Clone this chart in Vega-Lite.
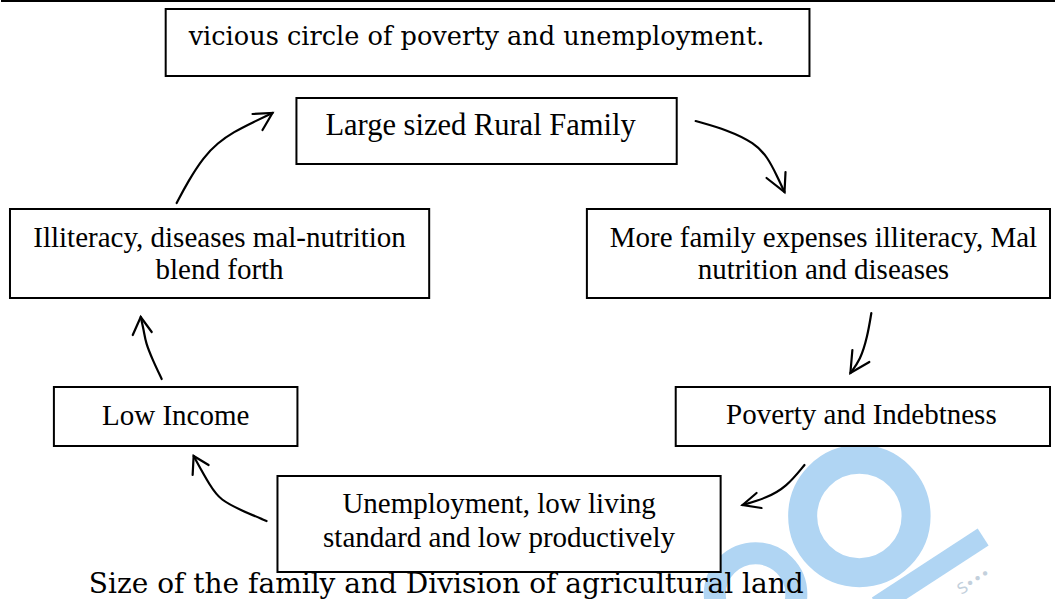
{
  "$schema": "https://vega.github.io/schema/vega-lite/v6.json",
  "width": 1056,
  "height": 599,
  "padding": 0,
  "autosize": {"type": "fit", "contains": "padding"},
  "background": "white",
  "config": {"view": {"stroke": null}},
  "datasets": {
    "topline": [{"xa": 0, "xb": 1056, "y": 1}],
    "ring1": [{"x": 860, "y": 516}],
    "ring2": [{"x": 756, "y": 594}],
    "bar": [{"xa": 984, "ya": 537, "xb": 878, "yb": 606}],
    "wm": [{"t": "S•••", "x": 962, "y": 595}],
    "boxes": [
      {"box": "vicious", "xa": 165, "xb": 810, "ya": 9, "yb": 76},
      {"box": "large", "xa": 296, "xb": 677, "ya": 98, "yb": 164},
      {"box": "illit", "xa": 9, "xb": 429, "ya": 209, "yb": 298},
      {"box": "more", "xa": 587, "xb": 1051, "ya": 209, "yb": 298},
      {"box": "low", "xa": 53, "xb": 297, "ya": 387, "yb": 446},
      {"box": "pov", "xa": 676, "xb": 1051, "ya": 387, "yb": 446},
      {"box": "unemp", "xa": 277, "xb": 721, "ya": 476, "yb": 572}
    ],
    "boxtext": [
      {"t": "Illiteracy, diseases mal-nutrition", "x": 219, "y": 247},
      {"t": "blend forth", "x": 219, "y": 279},
      {"t": "More family expenses illiteracy, Mal", "x": 824, "y": 247},
      {"t": "nutrition and diseases", "x": 824, "y": 279},
      {"t": "Low Income", "x": 175, "y": 425},
      {"t": "Poverty and Indebtness", "x": 862, "y": 424},
      {"t": "Unemployment, low living", "x": 499, "y": 513},
      {"t": "standard and low productively", "x": 499, "y": 547}
    ],
    "lefttext": [
      {"t": "Large sized Rural Family", "x": 325, "y": 135}
    ],
    "pala1": [
      {"t": "vicious circle of poverty and unemployment.", "x": 188, "y": 45}
    ],
    "pala2": [
      {"t": "Size of the family and Division of agricultural land", "x": 88, "y": 593}
    ],
    "arrows": [
      {"a": "A1", "i": 0, "x": 176, "y": 203},
      {"a": "A1", "i": 1, "x": 187, "y": 182},
      {"a": "A1", "i": 2, "x": 203, "y": 157},
      {"a": "A1", "i": 3, "x": 217, "y": 143},
      {"a": "A1", "i": 4, "x": 233, "y": 132},
      {"a": "A1", "i": 5, "x": 253, "y": 122},
      {"a": "A1", "i": 6, "x": 272, "y": 113},
      {"a": "A2", "i": 0, "x": 696, "y": 121},
      {"a": "A2", "i": 1, "x": 728, "y": 130},
      {"a": "A2", "i": 2, "x": 755, "y": 143},
      {"a": "A2", "i": 3, "x": 768, "y": 157},
      {"a": "A2", "i": 4, "x": 778, "y": 177},
      {"a": "A2", "i": 5, "x": 785, "y": 192},
      {"a": "A3", "i": 0, "x": 872, "y": 313},
      {"a": "A3", "i": 1, "x": 868, "y": 337},
      {"a": "A3", "i": 2, "x": 861, "y": 360},
      {"a": "A3", "i": 3, "x": 851, "y": 373},
      {"a": "A4", "i": 0, "x": 805, "y": 465},
      {"a": "A4", "i": 1, "x": 787, "y": 487},
      {"a": "A4", "i": 2, "x": 767, "y": 498},
      {"a": "A4", "i": 3, "x": 743, "y": 505},
      {"a": "A5", "i": 0, "x": 266, "y": 521},
      {"a": "A5", "i": 1, "x": 240, "y": 510},
      {"a": "A5", "i": 2, "x": 220, "y": 500},
      {"a": "A5", "i": 3, "x": 210, "y": 487},
      {"a": "A5", "i": 4, "x": 193, "y": 456},
      {"a": "A6", "i": 0, "x": 161, "y": 379},
      {"a": "A6", "i": 1, "x": 152, "y": 360},
      {"a": "A6", "i": 2, "x": 145, "y": 343},
      {"a": "A6", "i": 3, "x": 143, "y": 330},
      {"a": "A6", "i": 4, "x": 140, "y": 317}
    ],
    "heads": [
      {"a": "H1", "i": 0, "x": 252, "y": 114},
      {"a": "H1", "i": 1, "x": 272, "y": 113},
      {"a": "H1", "i": 2, "x": 262, "y": 130},
      {"a": "H2", "i": 0, "x": 767, "y": 178},
      {"a": "H2", "i": 1, "x": 785, "y": 192},
      {"a": "H2", "i": 2, "x": 786, "y": 172},
      {"a": "H3", "i": 0, "x": 853, "y": 350},
      {"a": "H3", "i": 1, "x": 851, "y": 373},
      {"a": "H3", "i": 2, "x": 870, "y": 362},
      {"a": "H4", "i": 0, "x": 757, "y": 493},
      {"a": "H4", "i": 1, "x": 743, "y": 505},
      {"a": "H4", "i": 2, "x": 762, "y": 508},
      {"a": "H5", "i": 0, "x": 192, "y": 475},
      {"a": "H5", "i": 1, "x": 193, "y": 456},
      {"a": "H5", "i": 2, "x": 208, "y": 465},
      {"a": "H6", "i": 0, "x": 132, "y": 335},
      {"a": "H6", "i": 1, "x": 140, "y": 317},
      {"a": "H6", "i": 2, "x": 151, "y": 332}
    ]
  },
  "layer": [
    {
      "data": {"name": "ring1"},
      "mark": {"type": "point", "shape": "circle", "filled": false, "size": 12868, "stroke": "#b0d5f3", "strokeWidth": 29, "opacity": 1, "clip": true},
      "encoding": {
        "x": {"field": "x", "type": "quantitative", "scale": {"domain": [0, 1056], "nice": false, "zero": false}, "axis": null},
        "y": {"field": "y", "type": "quantitative", "scale": {"domain": [0, 599], "nice": false, "zero": false, "reverse": true}, "axis": null}
      }
    },
    {
      "data": {"name": "ring2"},
      "mark": {"type": "point", "shape": "circle", "filled": false, "size": 6648, "stroke": "#b0d5f3", "strokeWidth": 22, "opacity": 1, "clip": true},
      "encoding": {
        "x": {"field": "x", "type": "quantitative", "scale": {"domain": [0, 1056], "nice": false, "zero": false}, "axis": null},
        "y": {"field": "y", "type": "quantitative", "scale": {"domain": [0, 599], "nice": false, "zero": false, "reverse": true}, "axis": null}
      }
    },
    {
      "data": {"name": "bar"},
      "mark": {"type": "rule", "stroke": "#b0d5f3", "strokeWidth": 20, "strokeCap": "butt", "clip": true},
      "encoding": {
        "x": {"field": "xa", "type": "quantitative", "scale": {"domain": [0, 1056], "nice": false, "zero": false}, "axis": null},
        "x2": {"field": "xb"},
        "y": {"field": "ya", "type": "quantitative", "scale": {"domain": [0, 599], "nice": false, "zero": false, "reverse": true}, "axis": null},
        "y2": {"field": "yb"}
      }
    },
    {
      "data": {"name": "wm"},
      "mark": {"type": "text", "font": "DejaVu Sans", "fontSize": 15, "angle": -32, "align": "left", "baseline": "alphabetic", "color": "#c3d0dc"},
      "encoding": {
        "x": {"field": "x", "type": "quantitative", "scale": {"domain": [0, 1056], "nice": false, "zero": false}, "axis": null},
        "y": {"field": "y", "type": "quantitative", "scale": {"domain": [0, 599], "nice": false, "zero": false, "reverse": true}, "axis": null},
        "text": {"field": "t"}
      }
    },
    {
      "data": {"name": "topline"},
      "mark": {"type": "rule", "stroke": "black", "strokeWidth": 2},
      "encoding": {
        "x": {"field": "xa", "type": "quantitative", "scale": {"domain": [0, 1056], "nice": false, "zero": false}, "axis": null},
        "x2": {"field": "xb"},
        "y": {"field": "y", "type": "quantitative", "scale": {"domain": [0, 599], "nice": false, "zero": false, "reverse": true}, "axis": null}
      }
    },
    {
      "data": {"name": "boxes"},
      "mark": {"type": "rect", "fill": "white", "stroke": "black", "strokeWidth": 2},
      "encoding": {
        "x": {"field": "xa", "type": "quantitative", "scale": {"domain": [0, 1056], "nice": false, "zero": false}, "axis": null},
        "x2": {"field": "xb"},
        "y": {"field": "ya", "type": "quantitative", "scale": {"domain": [0, 599], "nice": false, "zero": false, "reverse": true}, "axis": null},
        "y2": {"field": "yb"}
      }
    },
    {
      "data": {"name": "boxtext"},
      "mark": {"type": "text", "font": "Liberation Serif", "fontSize": 29, "align": "center", "baseline": "alphabetic", "color": "black"},
      "encoding": {
        "x": {"field": "x", "type": "quantitative", "scale": {"domain": [0, 1056], "nice": false, "zero": false}, "axis": null},
        "y": {"field": "y", "type": "quantitative", "scale": {"domain": [0, 599], "nice": false, "zero": false, "reverse": true}, "axis": null},
        "text": {"field": "t"}
      }
    },
    {
      "data": {"name": "lefttext"},
      "mark": {"type": "text", "font": "Liberation Serif", "fontSize": 30.5, "align": "left", "baseline": "alphabetic", "color": "black"},
      "encoding": {
        "x": {"field": "x", "type": "quantitative", "scale": {"domain": [0, 1056], "nice": false, "zero": false}, "axis": null},
        "y": {"field": "y", "type": "quantitative", "scale": {"domain": [0, 599], "nice": false, "zero": false, "reverse": true}, "axis": null},
        "text": {"field": "t"}
      }
    },
    {
      "data": {"name": "pala1"},
      "mark": {"type": "text", "font": "DejaVu Serif", "fontSize": 25.6, "align": "left", "baseline": "alphabetic", "color": "black"},
      "encoding": {
        "x": {"field": "x", "type": "quantitative", "scale": {"domain": [0, 1056], "nice": false, "zero": false}, "axis": null},
        "y": {"field": "y", "type": "quantitative", "scale": {"domain": [0, 599], "nice": false, "zero": false, "reverse": true}, "axis": null},
        "text": {"field": "t"}
      }
    },
    {
      "data": {"name": "pala2"},
      "mark": {"type": "text", "font": "DejaVu Serif", "fontSize": 28, "align": "left", "baseline": "alphabetic", "color": "black", "clip": true},
      "encoding": {
        "x": {"field": "x", "type": "quantitative", "scale": {"domain": [0, 1056], "nice": false, "zero": false}, "axis": null},
        "y": {"field": "y", "type": "quantitative", "scale": {"domain": [0, 599], "nice": false, "zero": false, "reverse": true}, "axis": null},
        "text": {"field": "t"}
      }
    },
    {
      "data": {"name": "arrows"},
      "mark": {"type": "line", "interpolate": "basis", "stroke": "black", "strokeWidth": 2.2, "strokeCap": "round"},
      "encoding": {
        "x": {"field": "x", "type": "quantitative", "scale": {"domain": [0, 1056], "nice": false, "zero": false}, "axis": null},
        "y": {"field": "y", "type": "quantitative", "scale": {"domain": [0, 599], "nice": false, "zero": false, "reverse": true}, "axis": null},
        "detail": {"field": "a"},
        "order": {"field": "i", "type": "quantitative"}
      }
    },
    {
      "data": {"name": "heads"},
      "mark": {"type": "line", "interpolate": "linear", "stroke": "black", "strokeWidth": 2.2, "strokeCap": "round", "strokeJoin": "miter"},
      "encoding": {
        "x": {"field": "x", "type": "quantitative", "scale": {"domain": [0, 1056], "nice": false, "zero": false}, "axis": null},
        "y": {"field": "y", "type": "quantitative", "scale": {"domain": [0, 599], "nice": false, "zero": false, "reverse": true}, "axis": null},
        "detail": {"field": "a"},
        "order": {"field": "i", "type": "quantitative"}
      }
    }
  ]
}
